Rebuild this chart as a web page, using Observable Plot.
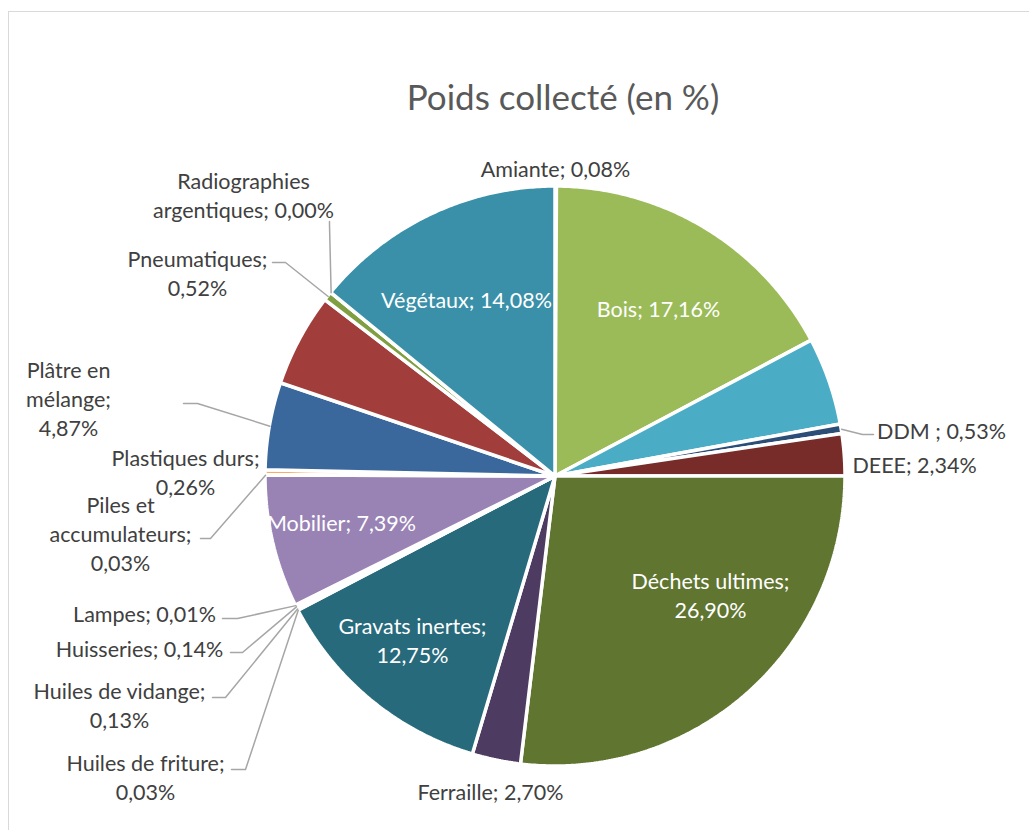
<!DOCTYPE html>
<html>
<head>
<meta charset="utf-8">
<script src="https://cdn.jsdelivr.net/npm/d3@7"></script>
<script src="https://cdn.jsdelivr.net/npm/@observablehq/plot@0.6"></script>
<style>
  html, body { margin: 0; padding: 0; background: #fff; width: 1029px; height: 830px; overflow: hidden; }
  #frame { position: absolute; left: 8px; top: 11px; width: 1100px; height: 900px;
           border-left: 1.5px solid #D9D9D9; border-top: 1.5px solid #D9D9D9; }
  #chart { position: absolute; left: 0; top: 0; }
  #title { position: absolute; left: 0; top: 75px; width: 1126px; text-align: center;
           font-family: Lato, "Open Sans", sans-serif; font-size: 35px; line-height: 42px; color: #595959; }
</style>
</head>
<body>
<div id="frame"></div>
<div id="chart"></div>
<div id="title">Poids collecté (en %)</div>
<script>
// ---------- DATA (clockwise from 12 o'clock) ----------
const categories = [
  "Amiante", "Bois", "(non libellé 1)", "DDM", "DEEE", "Déchets ultimes", "Ferraille",
  "Gravats inertes", "Huiles de friture", "Huiles de vidange", "Huisseries", "Lampes",
  "Mobilier", "Piles et accumulateurs", "Plastiques durs", "Plâtre en mélange",
  "(non libellé 2)", "Pneumatiques", "Radiographies argentiques", "Végétaux"
];
const values = [
  0.08, 17.16, 4.89, 0.53, 2.34, 26.90, 2.70,
  12.75, 0.03, 0.13, 0.14, 0.01,
  7.39, 0.03, 0.26, 4.87,
  5.19, 0.52, 0.00, 14.08
];
const colors = [
  "#C0504D", "#9BBB59", "#4BACC6", "#2C4D75", "#772C2A", "#5F7530", "#4D3B62",
  "#276A7C", "#B65708", "#729ACA", "#CD7371", "#AFC97A",
  "#9983B5", "#6FBDD1", "#F9AB6B", "#3A679C",
  "#A13E3B", "#7F9F42", "#6B5485", "#3A90A8"
];
// Label text (as shown), "{v}" replaced by the formatted value
const labelText = {
  "Amiante": "Amiante; {v}",
  "Bois": "Bois; {v}",
  "DDM": "DDM ; {v}",
  "DEEE": "DEEE; {v}",
  "Déchets ultimes": "Déchets ultimes;\n{v}",
  "Ferraille": "Ferraille; {v}",
  "Gravats inertes": "Gravats inertes;\n{v}",
  "Huiles de friture": "Huiles de friture;\n{v}",
  "Huiles de vidange": "Huiles de vidange;\n{v}",
  "Huisseries": "Huisseries; {v}",
  "Lampes": "Lampes; {v}",
  "Mobilier": "Mobilier; {v}",
  "Piles et accumulateurs": "Piles et\naccumulateurs;\n{v}",
  "Plastiques durs": "Plastiques durs;\n{v}",
  "Plâtre en mélange": "Plâtre en\nmélange;\n{v}",
  "Pneumatiques": "Pneumatiques;\n{v}",
  "Radiographies argentiques": "Radiographies\nargentiques; {v}",
  "Végétaux": "Végétaux; {v}"
};
const insideLabels = ["Bois", "Déchets ultimes", "Gravats inertes", "Mobilier", "Végétaux"];

// ---------- LAYOUT (picture pixels) ----------
const W = 1029, H = 830, CX = 555, CY = 476, R = 290;
const labelPos = {
  "Amiante": [555, 167],
  "Bois": [658, 307],
  "DDM": [941, 429],
  "DEEE": [914, 463],
  "Déchets ultimes": [710, 594],
  "Ferraille": [490, 790],
  "Gravats inertes": [412, 639],
  "Huiles de friture": [145, 776],
  "Huiles de vidange": [119, 704],
  "Huisseries": [139, 647],
  "Lampes": [144, 612],
  "Mobilier": [341, 521],
  "Piles et accumulateurs": [120, 532],
  "Plastiques durs": [185, 471],
  "Plâtre en mélange": [68, 397],
  "Pneumatiques": [197, 272],
  "Radiographies argentiques": [243, 194],
  "Végétaux": [466, 298]
};
// leader line stubs (start near label, elbow), then to slice edge
const leaderStubs = {
  "DDM": [[873, 434], [862, 434]],
  "Radiographies argentiques": [[329, 221], [329, 224]],
  "Pneumatiques": [[272, 262], [285, 262]],
  "Plâtre en mélange": [[183, 403], [197, 403]],
  "Piles et accumulateurs": [[200, 538], [210, 538]],
  "Lampes": [[222, 618], [237, 618]],
  "Huisseries": [[230, 652], [242, 652]],
  "Huiles de vidange": [[212, 697], [225, 697]],
  "Huiles de friture": [[231, 769], [245, 769]]
};

// ---------- BUILD ----------
const ux = p => (p - CX) / R;
const uy = p => (CY - p) / R;
const fmt = v => v.toFixed(2).replace(".", ",") + "%";

const arcs = d3.pie().sort(null).value(d => d)(values);
const slices = categories.map((name, i) => ({
  name, value: values[i], a0: arcs[i].startAngle, a1: arcs[i].endAngle
}));

const wedgePts = [];
for (const s of slices) {
  const n = Math.max(2, Math.ceil((s.a1 - s.a0) / (Math.PI / 360)) + 1);
  for (let k = 0; k < n; k++) {
    const t = s.a0 + (s.a1 - s.a0) * k / (n - 1);
    wedgePts.push({name: s.name, x1: Math.sin(t), y1: Math.cos(t), x2: 0, y2: 0});
  }
}

const labels = slices.filter(s => labelText[s.name]).map(s => ({
  name: s.name,
  text: labelText[s.name].replace("{v}", fmt(s.value)),
  x: ux(labelPos[s.name][0]), y: uy(labelPos[s.name][1]),
  inside: insideLabels.includes(s.name)
}));

const leaders = [];
for (const s of slices) {
  const stub = leaderStubs[s.name];
  if (!stub) continue;
  const m = (s.a0 + s.a1) / 2;
  for (const [px, py] of stub) leaders.push({id: s.name, x: ux(px), y: uy(py)});
  leaders.push({id: s.name, x: Math.sin(m), y: Math.cos(m)});
}

const chart = Plot.plot({
  width: W, height: H, margin: 0,
  x: {domain: [ux(0), ux(W)], axis: null},
  y: {domain: [uy(H), uy(0)], axis: null},
  color: {domain: categories, range: colors},
  style: {background: "transparent", fontFamily: "Lato, 'Open Sans', sans-serif"},
  marks: [
    Plot.area(wedgePts, {x1: "x1", y1: "y1", x2: "x2", y2: "y2", z: "name", fill: "name",
      stroke: "white", strokeWidth: 3.5, strokeLinejoin: "miter"}),
    Plot.line(leaders, {x: "x", y: "y", z: "id", stroke: "#A6A6A6", strokeWidth: 1.5}),
    Plot.text(labels, {x: "x", y: "y", text: "text", textAnchor: "middle", lineAnchor: "middle",
      fontSize: 21.5, lineHeight: 1.35, fill: d => d.inside ? "#FFFFFF" : "#404040"})
  ]
});
document.getElementById("chart").appendChild(chart);
</script>
</body>
</html>
